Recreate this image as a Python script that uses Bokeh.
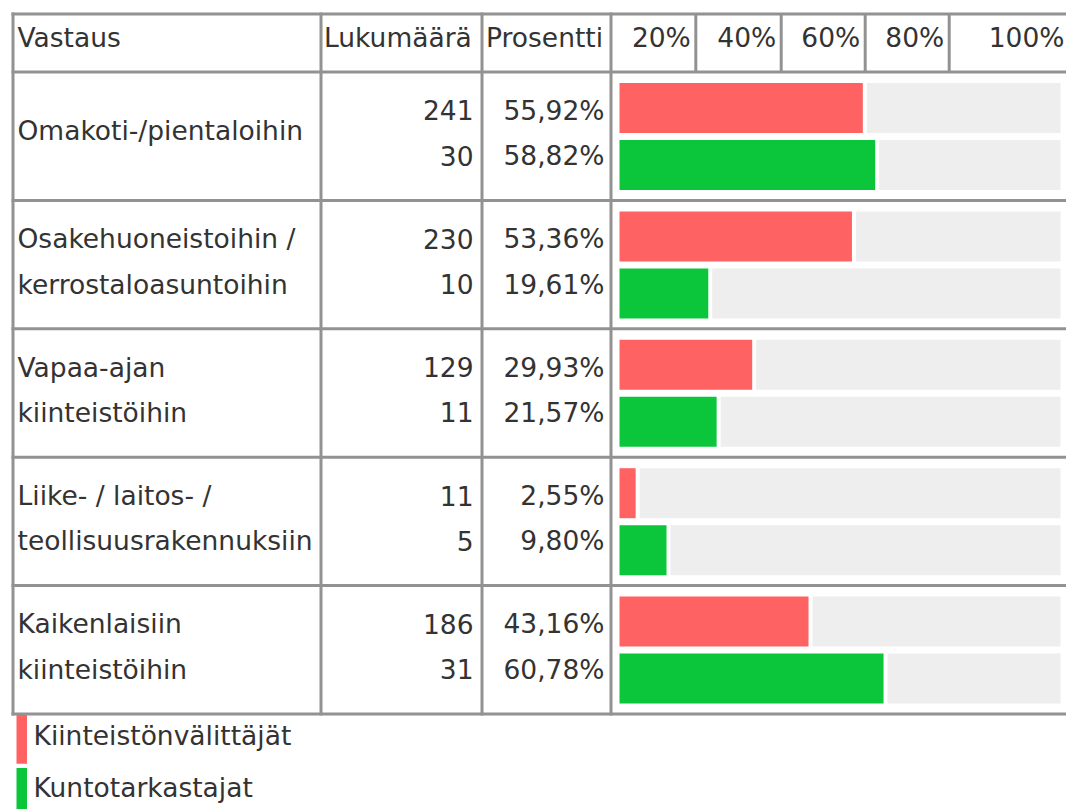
from bokeh.plotting import figure
from bokeh.models import Range1d, ColumnDataSource
from bokeh.core.properties import value
from bokeh.embed import file_html
from bokeh.resources import INLINE

# ---------------- data ----------------
header = ["Vastaus", "Lukumäärä", "Prosentti"]
tick_labels = ["20%", "40%", "60%", "80%", "100%"]
categories = [
    ["Omakoti-/pientaloihin"],
    ["Osakehuoneistoihin /", "kerrostaloasuntoihin"],
    ["Vapaa-ajan", "kiinteistöihin"],
    ["Liike- / laitos- /", "teollisuusrakennuksiin"],
    ["Kaikenlaisiin", "kiinteistöihin"],
]
series = ["Kiinteistönvälittäjät", "Kuntotarkastajat"]
counts_kv = [241, 230, 129, 11, 186]
counts_kt = [30, 10, 11, 5, 31]
pct_kv = [55.92, 53.36, 29.93, 2.55, 43.16]
pct_kt = [58.82, 19.61, 21.57, 9.80, 60.78]
colors = ["#FF6262", "#0BC63B"]

# ---------------- layout constants ----------------
FONT = "DejaVu Sans"
FS = "26.5px"
TXT = "#333333"
LINE = "#929292"
BG = "#EEEEEE"
DY = -8.0  # text vertical correction

W, H = 1066, 809
X_LEFT, X_COUNT, X_PCT, X_BAR = 12.5, 320.5, 481.5, 610.5
SUB_SEP = [695.3, 780.7, 864.7, 948.7, 1069.0]
Y_TOP, Y_HEAD = 13.5, 71.5
ROW_H = 128.4
BAR_X0, BAR_MIN, BAR_PX = 619.0, 5.3, 4.257
BAR_END = 1060.0

p = figure(width=W, height=H, output_backend="svg", toolbar_location=None,
           x_range=Range1d(0, W), y_range=Range1d(H, 0),
           min_border=0, outline_line_color=None)
p.axis.visible = False
p.grid.visible = False
p.background_fill_color = "white"
p.border_fill_color = "white"

n = len(categories)
row_tops = [Y_HEAD + i * ROW_H for i in range(n)]
Y_BOTTOM = Y_HEAD + n * ROW_H

# ---------------- bars ----------------
for s, (pcts, col) in enumerate([(pct_kv, colors[0]), (pct_kt, colors[1])]):
    tops = [rt + (11 if s == 0 else 68) for rt in row_tops]
    bots = [t + 50 for t in tops]
    rights = [BAR_X0 + BAR_MIN + v * BAR_PX for v in pcts]
    src = ColumnDataSource(dict(left=[BAR_X0] * n, right=rights, top=tops, bottom=bots,
                                gl=[r + 4 for r in rights], gr=[BAR_END] * n))
    p.quad(left="gl", right="gr", top="top", bottom="bottom", source=src,
           fill_color=BG, line_color=None)
    p.quad(left="left", right="right", top="top", bottom="bottom", source=src,
           fill_color=col, line_color=None)

# ---------------- grid lines ----------------
hy = [Y_TOP, Y_HEAD] + [rt + ROW_H for rt in row_tops]
p.segment(x0=[X_LEFT - 1.5] * len(hy), x1=[1070] * len(hy), y0=hy, y1=hy,
          line_color=LINE, line_width=3)
vx = [X_LEFT, X_COUNT, X_PCT, X_BAR]
p.segment(x0=vx, x1=vx, y0=[Y_TOP - 1.5] * 4, y1=[Y_BOTTOM + 1.5] * 4,
          line_color=LINE, line_width=3)
sx = SUB_SEP[:-1]
p.segment(x0=sx, x1=sx, y0=[Y_TOP] * len(sx), y1=[Y_HEAD] * len(sx),
          line_color=LINE, line_width=3)

common = dict(text_font=value(FONT), text_font_size=FS, text_color=TXT,
              text_baseline="alphabetic")

# ---------------- header ----------------
HB = 45.0 + DY
p.text(x=[17], y=[HB], text=[header[0]], text_align="left", **common)
p.text(x=[X_COUNT + 3], y=[HB], text=[header[1]], text_align="left", **common)
p.text(x=[X_PCT + 4], y=[HB], text=[header[2]], text_align="left", **common)
p.text(x=[v - 5 for v in SUB_SEP], y=[HB] * len(SUB_SEP), text=tick_labels,
       text_align="right", **common)

# ---------------- row texts ----------------
def fmt_pct(v):
    return f"{v:.2f}".replace(".", ",") + "%"

lx, ly, lt = [], [], []
for rt, lines in zip(row_tops, categories):
    if len(lines) == 1:
        lx.append(17); ly.append(rt + 66.5 + DY); lt.append(lines[0])
    else:
        for k, t in enumerate(lines):
            lx.append(17); ly.append(rt + 46.3 + k * 45.3 + DY); lt.append(t)
p.text(x=lx, y=ly, text=lt, text_align="left", **common)

ny, nt, pt = [], [], []
for i, rt in enumerate(row_tops):
    ny += [rt + 46.3 + DY, rt + 91.6 + DY]
    nt += [str(counts_kv[i]), str(counts_kt[i])]
    pt += [fmt_pct(pct_kv[i]), fmt_pct(pct_kt[i])]
p.text(x=[473] * len(ny), y=ny, text=nt, text_align="right", **common)
p.text(x=[604] * len(ny), y=ny, text=pt, text_align="right", **common)

# ---------------- legend ----------------
LEG_TOP = Y_BOTTOM + 1
p.quad(left=[16, 16], right=[26.5, 26.5], top=[LEG_TOP, LEG_TOP + 53],
       bottom=[LEG_TOP + 48.7, LEG_TOP + 101.7], fill_color=colors, line_color=None)
p.text(x=[33, 33], y=[742.7 + DY, 795 + DY], text=series, text_align="left", **common)

open("out.html", "w").write(file_html(p, INLINE))
